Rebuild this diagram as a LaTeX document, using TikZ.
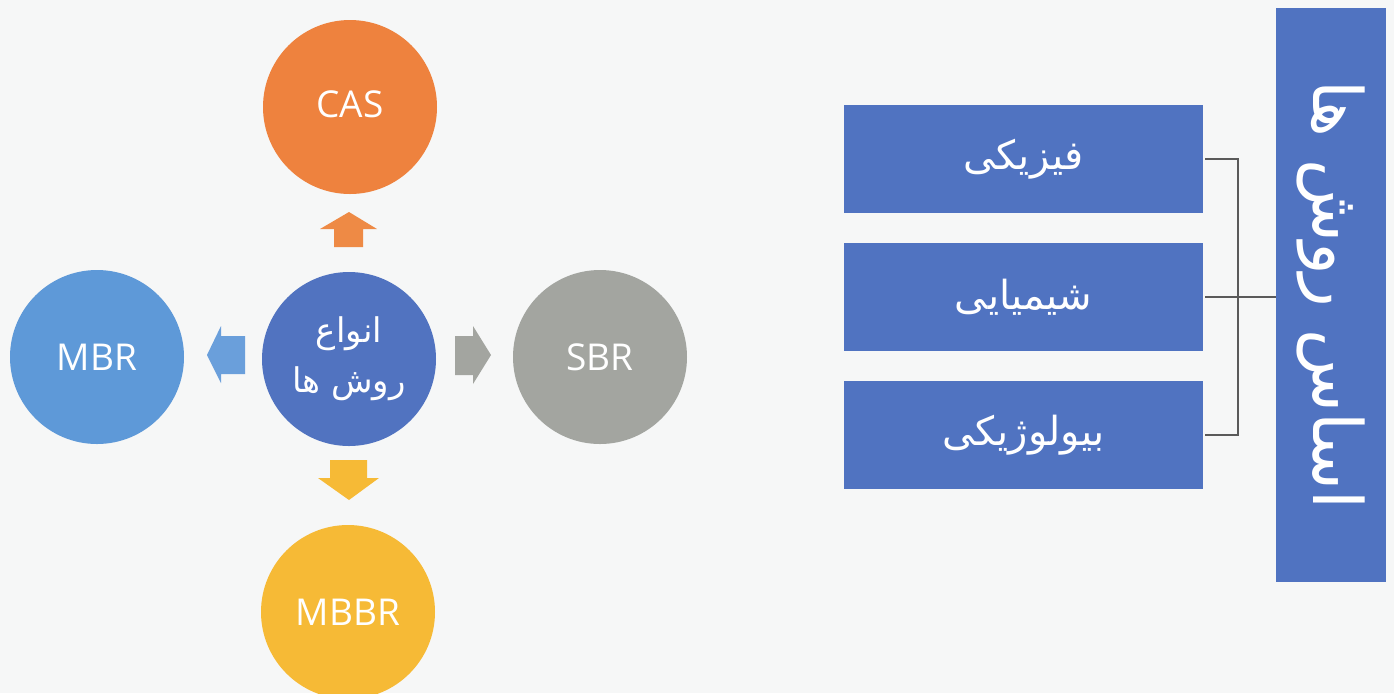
\documentclass[tikz,border=0pt]{standalone}
\usepackage{fontspec}
\setmainfont{Open Sans}
\newfontfamily\fa[Script=Arabic]{DejaVu Sans}
\TeXXeTstate=1
\definecolor{bg}{HTML}{F6F7F7}
\definecolor{casc}{HTML}{EE823E}
\definecolor{cenc}{HTML}{5173C0}
\definecolor{mbrc}{HTML}{5E99D8}
\definecolor{sbrc}{HTML}{A3A5A0}
\definecolor{mbbrc}{HTML}{F6BA36}
\definecolor{boxc}{HTML}{5073C1}
\definecolor{upc}{HTML}{EE8A45}
\definecolor{leftc}{HTML}{6A9FDB}
\definecolor{linec}{HTML}{5A5A5A}
\tikzset{
  disc/.style={circle, minimum size=87pt, inner sep=0pt, text=white, font=\fontsize{18.5}{22}\selectfont},
  pbox/.style={rectangle, fill=boxc, text=white, minimum width=179.5pt, minimum height=54pt, inner sep=0pt, font=\fa\fontsize{20}{24}\selectfont},
  conn/.style={draw=linec, line width=0.6pt},
}
\begin{document}
\begin{tikzpicture}[x=0.5pt, y=-0.5pt]
\fill[bg] (0,0) rectangle (1394,693);
\useasboundingbox (0,0) rectangle (1394,693);
\begin{scope}
\clip (0,0) rectangle (1394,693);
% circles
\node[disc, fill=casc] (cas) at (350,107) {\raisebox{3pt}{CAS}};
\node[disc, fill=cenc, align=center, font=\fa\fontsize{17}{25}\selectfont] (cen) at (349,359) {\beginR انواع\endR\\\beginR روش ها\endR};
\node[disc, fill=mbrc] (mbr) at (97,357) {MBR};
\node[disc, fill=sbrc] (sbr) at (600,357) {SBR};
\node[disc, fill=mbbrc] (mbbr) at (348,612) {MBBR};
% block arrows
\fill[upc] (349,212) -- (377,229) -- (363,229) -- (363,247) -- (334,247) -- (334,229) -- (320,229) -- cycle;
\fill[mbbrc] (349,500) -- (379,478) -- (367,478) -- (367,460) -- (330,460) -- (330,478) -- (318,478) -- cycle;
\fill[leftc] (207,355) -- (221,326) -- (221,336) -- (245,336) -- (245,374) -- (221,374) -- (221,383) -- cycle;
\fill[sbrc] (491,355) -- (473,326) -- (473,336) -- (455,336) -- (455,375) -- (473,375) -- (473,384) -- cycle;
\end{scope}
% right panel
\node[pbox] (b1) at (1023.5,159) {\beginR فیزیکی\endR};
\node[pbox] (b2) at (1023.5,297) {\beginR شیمیایی\endR};
\node[pbox] (b3) at (1023.5,435) {\beginR بیولوژیکی\endR};
\node[rectangle, fill=boxc, text=white, minimum width=55pt, minimum height=287pt, inner sep=0pt, font=\fa\fontsize{34}{36}\selectfont] (tall) at (1331,295) {\rotatebox{-90}{\beginR اساس روش ها\endR}};
\coordinate (j) at (1238,297);
\draw[conn] ([xshift=1pt]b1.east) -| (j) |- ([xshift=1pt]b3.east);
\draw[conn] ([xshift=1pt]b2.east) -- (b2.east -| tall.west);
\end{tikzpicture}
\end{document}
